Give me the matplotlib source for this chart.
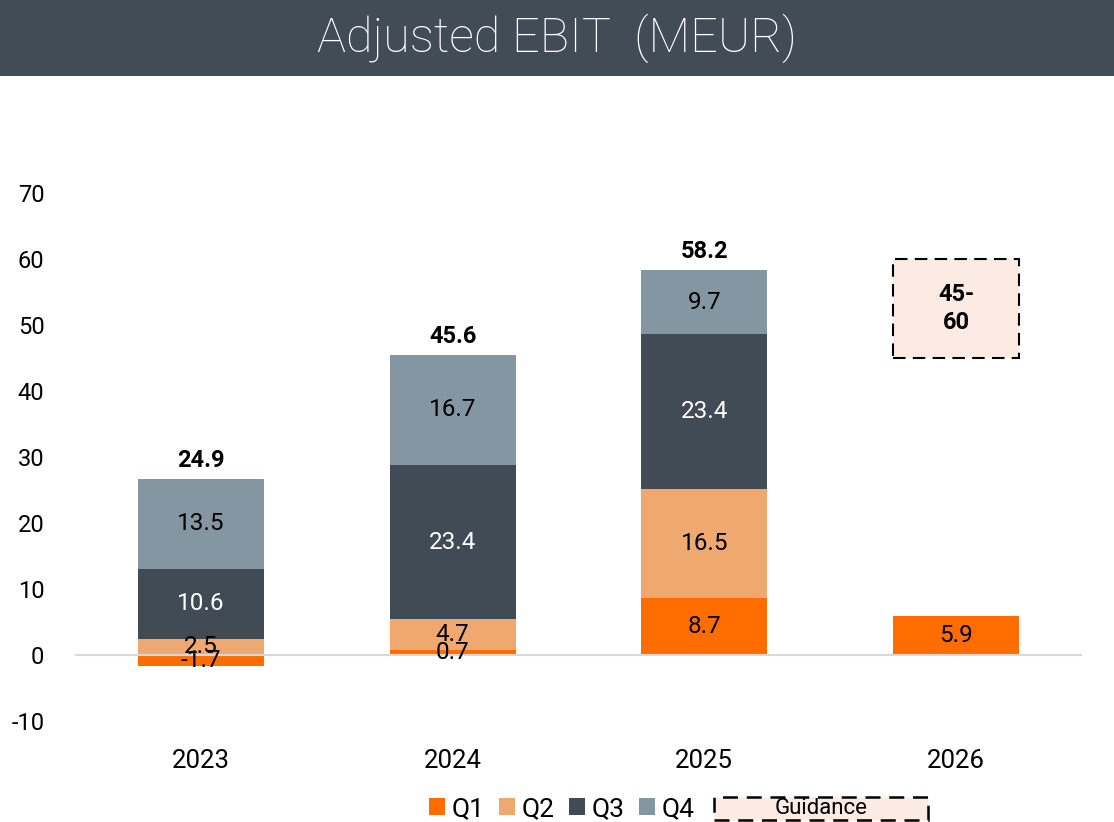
import numpy as np
import matplotlib.pyplot as plt
from matplotlib.patches import Patch, Rectangle

plt.rcParams['font.family'] = ['Roboto', 'DejaVu Sans']

# data
years = ['2023', '2024', '2025', '2026']
q1 = [-1.7, 0.7, 8.7, 5.9]
q2 = [2.5, 4.7, 16.5, 0]
q3 = [10.6, 23.4, 23.4, 0]
q4 = [13.5, 16.7, 9.7, 0]
totals = [24.9, 45.6, 58.2]
guidance_low, guidance_high = 45, 60
guidance_label = '45-\n60'

colors = ['#FF6D00', '#EFA870', '#404B55', '#8496A2']
label_colors = ['black', 'black', 'white', 'black']
dash = (0, (6, 3.5))

fig = plt.figure(figsize=(11.14, 8.22), dpi=100)

# title banner
fig.patches.append(Rectangle((0, 1 - 76 / 822), 1, 76 / 822, transform=fig.transFigure,
                             facecolor='#414C56', edgecolor='none', zorder=0))
fig.text(0.5, 1 - 38 / 822, 'Adjusted EBIT  (MEUR)', ha='center', va='center',
         color='white', fontsize=35, fontweight='light')

ax = fig.add_axes([75 / 1114, 1 - 721 / 822, 1007 / 1114, 561 / 822])
x = np.arange(len(years))
w = 0.5

# Q1 sits on its own (negative allowed); Q2 stacks from max(Q1, 0)
q1a = np.array(q1)
base2 = np.where(q1a > 0, q1a, 0)
series = [q1a, np.array(q2), np.array(q3), np.array(q4)]
bottoms = [np.zeros(4), base2, base2 + series[1], base2 + series[1] + series[2]]

for s, b, c, lc in zip(series, bottoms, colors, label_colors):
    ax.bar(x, s, w, bottom=b, color=c, zorder=2)
    for xi, v, bi in zip(x, s, b):
        if v != 0:
            ax.text(xi, bi + v / 2, f'{v:.1f}', ha='center', va='center',
                    color=lc, fontsize=17.5, zorder=4)

tops = bottoms[3] + series[3]
for xi, t, tot in zip(x[:3], tops[:3], totals):
    ax.annotate(f'{tot:.1f}', (xi, t), xytext=(0, 5), textcoords='offset points',
                ha='center', va='bottom', fontsize=17, fontweight='bold')

# guidance box for 2026
ax.add_patch(Rectangle((x[3] - w / 2, guidance_low), w, guidance_high - guidance_low,
                       facecolor='#FBEBE3', edgecolor='black', linestyle=dash,
                       linewidth=1.5, zorder=2))
ax.text(x[3], (guidance_low + guidance_high) / 2, guidance_label, ha='center', va='center',
        fontsize=17, fontweight='bold', linespacing=1.3, zorder=4)

ax.axhline(0, color='#D9D9D9', lw=1.5, zorder=3)
ax.set_xlim(-0.5, 3.5)
ax.set_ylim(-10, 75)
yt = list(range(-10, 71, 10))
ax.set_yticks(yt)
ax.set_yticklabels([str(v) for v in yt])
ax.set_xticks(x)
ax.set_xticklabels(years)
ax.tick_params(axis='y', length=0, labelsize=17, pad=22)
ax.tick_params(axis='x', length=0, labelsize=18.5, pad=20)
for sp in ax.spines.values():
    sp.set_visible(False)

# legend
handles = [Patch(facecolor=c, label=f'Q{i + 1}') for i, c in enumerate(colors)]
fig.legend(handles=handles, loc='center', bbox_to_anchor=(562 / 1114, 1 - 809 / 822),
           ncol=4, frameon=False, fontsize=19, handlelength=0.6, handleheight=0.6,
           handletextpad=0.25, columnspacing=0.55, borderpad=0, borderaxespad=0)
fig.patches.append(Rectangle((714 / 1114, 1 - 820 / 822), 214 / 1114, 23 / 822,
                             transform=fig.transFigure, facecolor='#FBEBE3', edgecolor='black',
                             linestyle=dash, linewidth=1.8))
fig.text(821 / 1114, 1 - 808 / 822, 'Guidance', ha='center', va='center', fontsize=16)

fig.savefig('out.png', dpi=100)
